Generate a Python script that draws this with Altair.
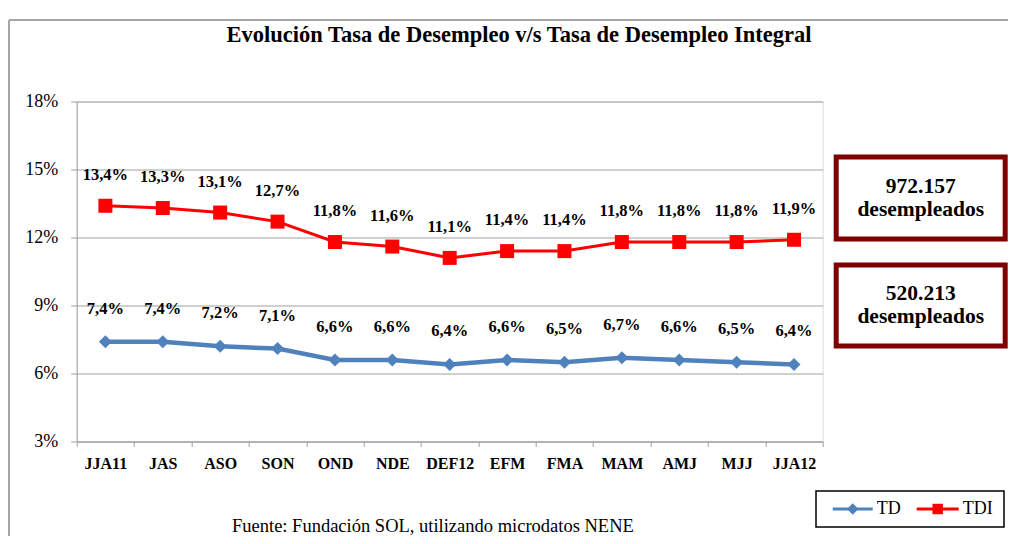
import altair as alt
import pandas as pd

categories = ["JJA11", "JAS", "ASO", "SON", "OND", "NDE", "DEF12", "EFM", "FMA", "MAM", "AMJ", "MJJ", "JJA12"]
td = [7.4, 7.4, 7.2, 7.1, 6.6, 6.6, 6.4, 6.6, 6.5, 6.7, 6.6, 6.5, 6.4]
tdi = [13.4, 13.3, 13.1, 12.7, 11.8, 11.6, 11.1, 11.4, 11.4, 11.8, 11.8, 11.8, 11.9]
series_names = ["TD", "TDI"]
series_colors = ["#4F81BD", "#FF0000"]
y_ticks = [3, 6, 9, 12, 15, 18]
title_text = "Evolución Tasa de Desempleo v/s Tasa de Desempleo Integral"
box_numbers = ["972.157", "520.213"]
box_word = "desempleados"
source_text = "Fuente: Fundación SOL, utilizando microdatos NENE"

SERIF = "Times New Roman, Liberation Serif, serif"
W, H = 746, 340
PL, PT = 68.7, 93.5
TOTAL_W, TOTAL_H = 1000, 528

df = pd.DataFrame({
    "cat": categories * 2,
    "value": td + tdi,
    "series": [series_names[0]] * len(td) + [series_names[1]] * len(tdi),
})

x_enc = alt.X("cat:N", sort=categories,
              scale=alt.Scale(type="band", paddingInner=0, paddingOuter=0),
              axis=alt.Axis(title=None, labelAngle=0, tickBand="extent", tickSize=5,
                            tickColor="#a0a0a0", domainColor="#a0a0a0",
                            labelFont=SERIF, labelFontSize=16, labelFontWeight="bold",
                            labelColor="black", labelPadding=9, grid=False))
y_enc = alt.Y("value:Q", scale=alt.Scale(domain=[3, 18]),
              axis=alt.Axis(title=None, values=y_ticks, labelExpr="datum.value + '%'",
                            grid=True, gridColor="#a0a0a0", gridWidth=1,
                            domainColor="#a0a0a0", tickColor="#a0a0a0", tickSize=6,
                            labelFont=SERIF, labelFontSize=18, labelColor="black",
                            labelPadding=13))

base = alt.Chart(df).transform_calculate(
    lab="replace(format(datum.value, '.1f'), '.', ',') + '%'"
)

def series_layers(name, color, width, shape, size, dy):
    b = base.transform_filter(alt.datum.series == name)
    line = b.mark_line(color=color, strokeWidth=width).encode(x=x_enc, y=y_enc)
    pts = b.mark_point(shape=shape, size=size, filled=True, color=color, opacity=1).encode(x=x_enc, y=y_enc)
    txt = b.mark_text(font=SERIF, fontSize=16.5, fontWeight="bold", color="black", dy=dy).encode(
        x=x_enc, y=y_enc, text="lab:N")
    return [line, pts, txt]

layers = []
layers += series_layers("TD", series_colors[0], 4.5, "diamond", 169, -33)
layers += series_layers("TDI", series_colors[1], 3, "square", 196, -31)

one = pd.DataFrame({"a": [0]})

def rule(x1, y1, x2, y2, color, w):
    return alt.Chart(one).mark_rule(color=color, strokeWidth=w).encode(
        x=alt.value(x1), x2=alt.value(x2), y=alt.value(y1), y2=alt.value(y2))

def rect(x1, y1, x2, y2, stroke, w, fill="white"):
    return alt.Chart(one).mark_rect(fill=fill, stroke=stroke, strokeWidth=w).encode(
        x=alt.value(x1), x2=alt.value(x2), y=alt.value(y1), y2=alt.value(y2))

def text(t, x, y, size, weight="normal", align="center"):
    return alt.Chart(one).mark_text(text=t, font=SERIF, fontSize=size, fontWeight=weight,
                                    color="black", align=align, baseline="middle").encode(
        x=alt.value(x), y=alt.value(y))

# outer border of the original figure
layers.append(rule(-67.7, -81.5, TOTAL_W - PL, -81.5, "#a6a6a6", 2))
layers.append(rule(-67.7, -81.5, -67.7, TOTAL_H - PT, "#a6a6a6", 2))

# title
layers.append(text(title_text, 442.3, -66.5, 22.5, "bold"))

# boxes with counts
box_ys = [(55.5, 137.5), (163.5, 244.5)]
for (y1, y2), num in zip(box_ys, box_numbers):
    layers.append(rect(759.5, y1, 928.5, y2, "#7f0000", 5))
    cy = (y1 + y2) / 2
    layers.append(text(num, 844, cy - 11.5, 21.5, "bold"))
    layers.append(text(box_word, 844, cy + 11.5, 21.5, "bold"))

# legend
leg_y = 407.5
layers.append(rect(739.3, 389.5, 927.3, 425.5, "black", 1.5))
leg_x = [(756, 796, 776, 800), (840, 882, 861, 886)]
shapes = [("diamond", 130), ("square", 110)]
for (x1, x2, xc, xt), name, col, (shp, sz), lw in zip(leg_x, series_names, series_colors, shapes, [3, 3]):
    layers.append(rule(x1, leg_y, x2, leg_y, col, lw))
    layers.append(alt.Chart(one).mark_point(shape=shp, size=sz, filled=True, color=col, opacity=1).encode(
        x=alt.value(xc), y=alt.value(leg_y)))
    layers.append(text(name, xt, leg_y, 18, "normal", "left"))

# source
layers.append(text(source_text, 155.3, 424.5, 18.5, "normal", "left"))

chart = alt.layer(*layers).properties(
    width=W, height=H,
    padding={"left": PL, "top": PT, "right": TOTAL_W - PL - W, "bottom": TOTAL_H - PT - H},
    autosize=alt.AutoSizeParams(type="none"),
).configure_view(stroke=None).configure(background="white")

chart.save("out.html", embed_options={"renderer": "svg", "actions": False})
